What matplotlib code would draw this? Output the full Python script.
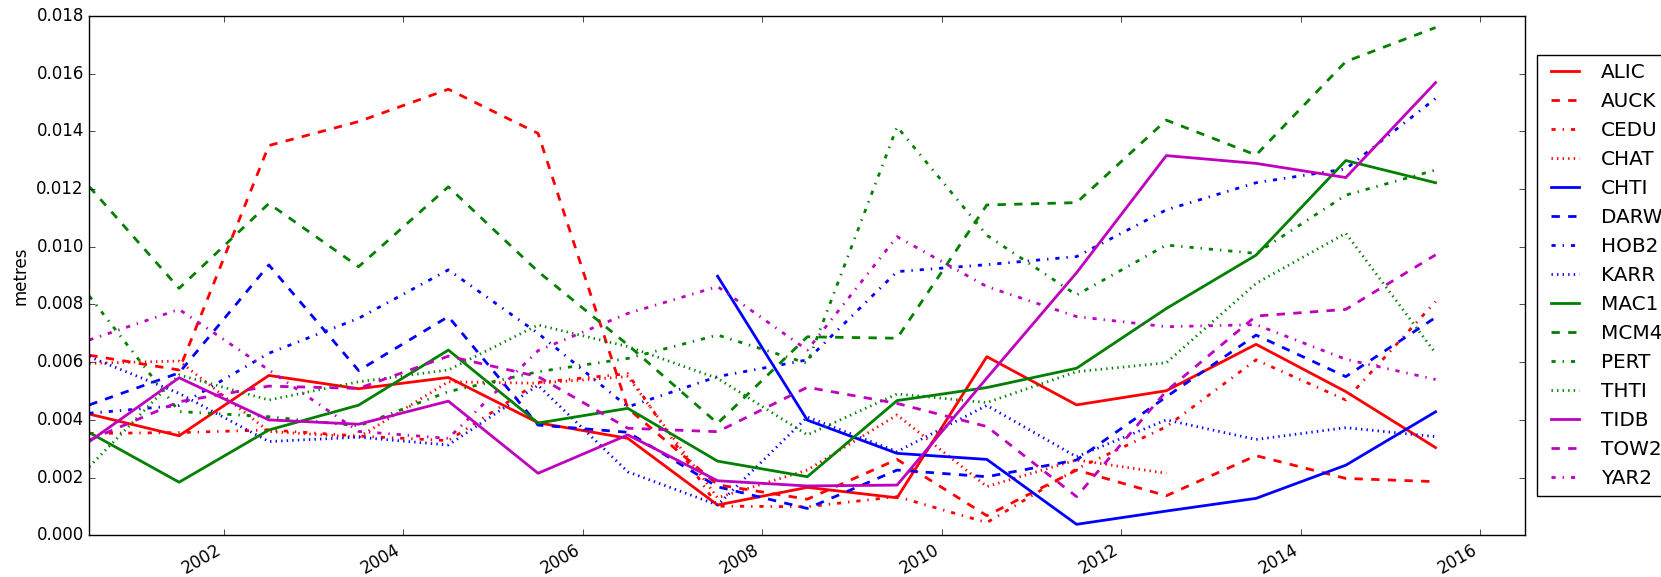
import matplotlib
matplotlib.use("Agg")
import matplotlib.pyplot as plt
import numpy as np

plt.style.use('classic')

years = [2000.5, 2001.5, 2002.5, 2003.5, 2004.5, 2005.5, 2006.5, 2007.5,
         2008.5, 2009.5, 2010.5, 2011.5, 2012.5, 2013.5, 2014.5, 2015.5]

nan = np.nan

alic = [4.20, 3.45, 5.54, 5.08, 5.47, 3.90, 3.36, 1.05, 1.66, 1.30, 6.19, 4.52, 5.01, 6.62, 4.98, 3.04]
auck = [6.24, 5.73, 13.51, 14.34, 15.46, 13.93, 4.40, 1.75, 1.25, 2.63, 0.68, 2.26, 1.37, 2.76, 1.97, 1.86]
cedu = [3.53, 3.56, 3.65, 3.44, 3.28, 5.30, 5.60, 1.01, 0.99, 1.34, 0.44, 2.30, 3.76, 6.08, 4.69, 8.10]
chat = [5.96, 6.04, 3.60, 3.40, 5.32, 5.27, 5.50, 1.30, 2.26, 4.17, 1.69, 2.61, 2.15, nan, nan, nan]
chti = [nan, nan, nan, nan, nan, nan, nan, 8.98, 3.99, 2.84, 2.63, 0.38, 0.84, 1.28, 2.43, 4.28]
darw = [4.52, 5.63, 9.37, 5.71, 7.58, 3.82, 3.57, 1.68, 0.93, 2.26, 2.03, 2.61, 4.80, 6.94, 5.50, 7.55]
hob2 = [4.23, 4.50, 6.31, 7.52, 9.20, 7.00, 4.45, 5.50, 6.08, 9.14, 9.38, 9.66, 11.28, 12.22, 12.70, 15.14]
karr = [6.19, 4.92, 3.25, 3.40, 3.13, 5.20, 2.20, 1.05, 4.10, 2.90, 4.50, 2.72, 4.00, 3.32, 3.73, 3.42]
mac1 = [3.56, 1.84, 3.65, 4.51, 6.42, 3.89, 4.40, 2.57, 2.03, 4.67, 5.12, 5.79, 7.86, 9.71, 12.99, 12.22]
mcm4 = [12.08, 8.56, 11.50, 9.31, 12.08, 9.14, 6.60, 3.88, 6.88, 6.83, 11.45, 11.53, 14.39, 13.18, 16.42, 17.60]
pert = [8.29, 4.29, 4.11, 3.79, 4.98, 5.67, 6.13, 6.94, 5.96, 14.16, 10.40, 8.33, 10.06, 9.77, 11.79, 12.66]
thti = [2.38, 5.56, 4.69, 5.32, 5.73, 7.29, 6.54, 5.44, 3.48, 4.90, 4.60, 5.67, 5.98, 8.73, 10.47, 6.31]
tidb = [3.25, 5.46, 4.00, 3.85, 4.65, 2.15, 3.48, 1.89, 1.71, 1.74, 5.45, 9.10, 13.16, 12.89, 12.40, 15.69]
tow2 = [3.30, 4.63, 5.17, 5.09, 6.21, 5.50, 3.71, 3.59, 5.13, 4.57, 3.77, 1.34, 5.00, 7.60, 7.83, 9.72]
yar2 = [6.77, 7.83, 5.73, 3.60, 3.36, 6.40, 7.69, 8.62, 6.42, 10.35, 8.62, 7.58, 7.23, 7.30, 6.10, 5.40]

stations = ["ALIC", "AUCK", "CEDU", "CHAT", "CHTI", "DARW", "HOB2", "KARR",
            "MAC1", "MCM4", "PERT", "THTI", "TIDB", "TOW2", "YAR2"]
series = [alic, auck, cedu, chat, chti, darw, hob2, karr,
          mac1, mcm4, pert, thti, tidb, tow2, yar2]

colors = ['r', 'b', 'g', 'm']
styles = ['-', '--', '-.', ':']

fig = plt.figure(figsize=(16.61, 5.77), dpi=100)
ax = fig.add_axes([0.0538, 0.0723, 0.8645, 0.9])

for i, (name, vals) in enumerate(zip(stations, series)):
    ax.plot(years, np.array(vals) / 1000.0, color=colors[i // 4],
            linestyle=styles[i % 4], linewidth=2, label=name)

ax.set_xlim(2000.5, 2016.5)
ax.set_ylim(0, 0.018)
ax.set_xticks([2002, 2004, 2006, 2008, 2010, 2012, 2014, 2016])
ax.set_xticklabels(['2002', '2004', '2006', '2008', '2010', '2012', '2014', '2016'],
                   rotation=30, ha='right')
ax.set_yticks(np.arange(0, 0.0181, 0.002))
ax.set_ylabel('metres')

ax.legend(loc='center left', bbox_to_anchor=(1.0, 0.5), borderaxespad=0.57)

fig.savefig('out.png', dpi=100, facecolor='white')
